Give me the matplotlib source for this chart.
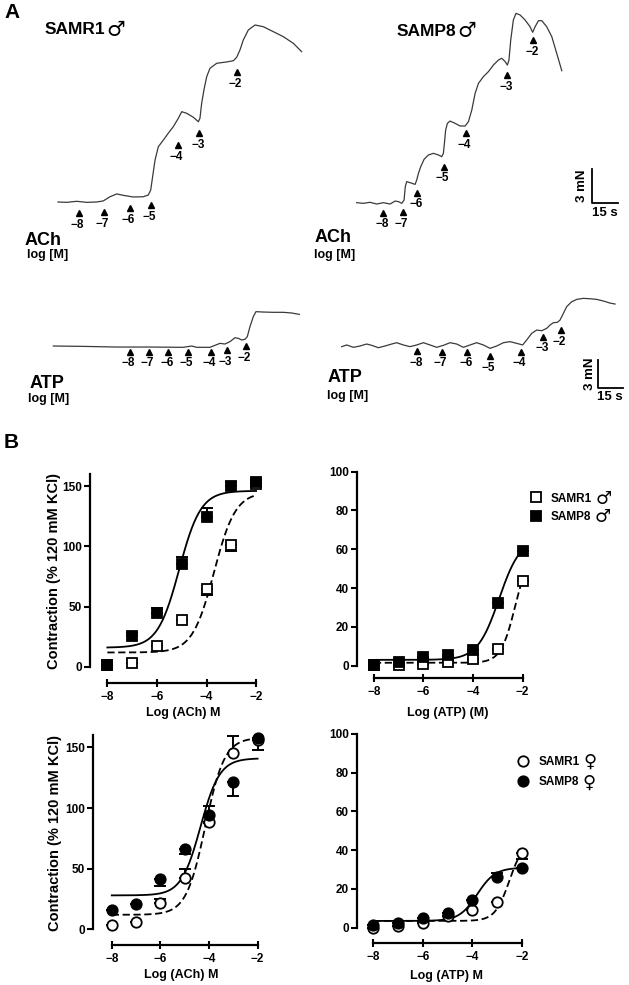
import numpy as np
import matplotlib
matplotlib.use('Agg')
import matplotlib.pyplot as plt

plt.rcParams['font.family'] = ['Liberation Sans', 'DejaVu Sans']
plt.rcParams['font.weight'] = 'bold'
plt.rcParams['axes.labelweight'] = 'bold'

W, H = 629, 985

# ===== PANEL A: isometric tension traces (time s, tension mN) =====
dose_labels = ['\u22128', '\u22127', '\u22126', '\u22125', '\u22124', '\u22123', '\u22122']

ach_r1_t = [0, 5, 10.8, 16.6, 22.3, 26.1, 30.0, 33.9, 37.7, 43.4, 49.2, 52.1, 53.5, 54.6,
            56.0, 57.9, 60.8, 63.6, 66.5, 69.4, 71.4, 74.3, 78.1, 81.0, 81.9, 82.9, 84.2,
            85.8, 87.7, 91.6, 97.3, 101.2, 103.1, 105.0, 106.9, 109.8, 113.7, 118.5, 124.2,
            130.0, 135.8, 140.6]
ach_r1_f = [0, -0.03, 0.06, -0.03, 0, 0.09, 0.45, 0.69, 0.57, 0.43, 0.45, 0.6, 1.03, 2.17,
            3.6, 4.74, 5.31, 5.89, 6.45, 7.17, 7.74, 7.6, 7.26, 6.88, 7.17, 8.46, 9.6,
            10.74, 11.46, 11.89, 12.0, 12.11, 12.4, 13.03, 13.88, 14.74, 15.17, 15.02, 14.6,
            14.17, 13.6, 12.88]
ach_r1_arrow_t = [12.1, 26.5, 41.5, 53.7, 69.1, 81.5, 103.1]
ach_r1_arrow_f = [-0.94, -0.86, -0.51, -0.26, 4.9, 5.9, 11.1]

ach_p8_t = [0, 3.8, 7.6, 11.4, 15.2, 19.0, 21.9, 23.8, 25.7, 27.0, 27.7, 28.5, 30.4, 33.3,
            34.2, 35.2, 36.5, 38.4, 40.9, 43.7, 46.6, 48.5, 49.4, 50.0, 50.7, 51.7, 53.2,
            56.1, 58.9, 61.8, 63.7, 65.6, 67.5, 69.4, 72.2, 75.1, 77.9, 80.8, 82.7, 84.6,
            85.9, 86.8, 87.8, 89.3, 90.8, 93.1, 96.0, 98.8, 100.3, 101.7, 103.6, 105.5,
            108.3, 111.2, 114.0, 116.9]
ach_p8_f = [0.03, -0.03, 0.06, -0.09, 0.03, -0.09, 0.17, 0.12, -0.03, 0.26, 1.42, 1.86, 1.77,
            1.62, 2.0, 2.58, 3.16, 3.8, 4.18, 4.32, 4.18, 4.03, 4.32, 5.19, 6.35, 6.93, 7.13,
            6.93, 6.7, 6.7, 7.08, 8.09, 9.54, 10.41, 10.99, 11.43, 12.0, 12.44, 12.59, 12.3,
            12.0, 12.44, 14.18, 15.92, 16.5, 16.36, 15.92, 15.34, 14.85, 15.34, 15.86, 15.86,
            15.34, 14.47, 13.02, 11.51]
ach_p8_arrow_t = [15.2, 26.2, 34.6, 49.8, 62.3, 85.9, 100.7]
ach_p8_arrow_f = [-0.84, -0.78, 0.9, 3.16, 6.06, 11.14, 14.18]

atp_r1_t = [0, 18, 38, 58, 78, 83, 86, 94, 97, 100, 103, 106, 109, 111, 113, 115, 116.4,
            118, 120, 121.6, 126, 132, 138, 143, 147.6]
atp_r1_f = [0, -0.04, -0.11, -0.11, -0.14, 0, -0.14, -0.14, 0.07, 0.28, 0.21, 0.46, 0.88,
            0.81, 0.64, 0.71, 0.99, 2.05, 3.11, 3.64, 3.6, 3.57, 3.57, 3.5, 3.35]
atp_r1_arrow_t = [46, 57.4, 69, 80.6, 94.4, 104, 115.4]
atp_r1_arrow_f = [-0.6, -0.6, -0.6, -0.6, -0.6, -0.42, 0]

atp_p8_t = [0, 3, 7, 11, 15, 18, 22, 26, 30, 33, 37, 41, 45, 49, 53, 57, 61, 65, 69, 73, 77,
            81, 85, 89, 93, 97, 101, 105, 108.6, 111, 114, 117, 120, 123, 125, 127, 129.4,
            131, 133, 135, 138, 141, 145, 149, 153, 157, 161, 164]
atp_p8_f = [-0.07, 0.11, -0.14, 0, 0.21, 0.07, -0.18, 0, 0.21, 0.35, 0.11, -0.07, 0.11, 0.35,
            0.11, -0.14, 0.07, 0.35, 0.21, -0.14, 0.11, 0.35, 0.11, -0.25, 0, 0.35, 0.46,
            0.28, 0.11, 0.64, 1.34, 1.69, 1.62, 1.87, 2.22, 2.47, 2.51, 2.75, 3.46, 4.17,
            4.69, 4.94, 5.05, 5.01, 4.94, 4.77, 4.55, 4.45]
atp_p8_arrow_t = [45.4, 60, 75.4, 89, 107.4, 121, 131.4]
atp_p8_arrow_f = [-0.53, -0.6, -0.6, -1.06, -0.6, 0.99, 1.69]

# ===== PANEL B: concentration-response (mean, one-sided SEM) =====
log_conc = [-8, -7, -6, -5, -4, -3, -2]

ach_m_r1 = [2, 3, 17, 39, 65, 101, 152]
ach_m_r1_err = [0, 0, 0, 0, 5, 5, 0]        # drawn downward
ach_m_p8 = [2, 26, 45, 85, 124, 150, 153]
ach_m_p8_err = [0, 2, 4, 6, 8, 3, 2]        # drawn upward

atp_m_r1 = [0.3, 0.5, 1, 1.7, 3.3, 8.5, 43.4]
atp_m_p8 = [0.5, 2, 4.3, 5.5, 8.1, 32.2, 59]

ach_f_r1 = [3.6, 6.3, 21.4, 42, 88.7, 145.6, 156]
ach_f_r1_err = [0, 0, 4, 8, 13, 14, 0]      # upward
ach_f_p8 = [16, 21, 41.5, 66, 94, 121.7, 158]
ach_f_p8_err = [0, 0, 6, 4, 6, 12, 10]      # downward

atp_f_r1 = [0, 1, 2.6, 6, 9.1, 13.1, 38.4]
atp_f_r1_err = [0, 0, 0, 0, 0, 0, 3]        # downward
atp_f_p8 = [1.4, 2.6, 4.8, 7.4, 14.3, 26, 30.6]
atp_f_p8_err = [0, 0, 0, 0, 0, 2.4, 0]      # upward

# sigmoid fits: bottom, top, logEC50, hill slope
fit_ach_m_r1 = [12, 145, -3.7, 1.0]
fit_ach_m_p8 = [16, 146, -5.1, 1.0]
fit_atp_m_r1 = [1.5, 60, -2.3, 1.5]
fit_atp_m_p8 = [3, 66, -2.95, 1.0]
fit_ach_f_r1 = [12, 158, -4.15, 1.1]
fit_ach_f_p8 = [28, 141, -4.35, 1.1]
fit_atp_f_r1 = [3.5, 45, -2.5, 1.5]
fit_atp_f_p8 = [3.5, 31, -3.8, 1.2]

MALE, FEMALE = '\u2642', '\u2640'


def logistic(x, bottom, top, logec50, hill):
    return bottom + (top - bottom) / (1 + 10 ** ((logec50 - x) * hill))


fig = plt.figure(figsize=(W / 100, H / 100), dpi=100)


def px_axes(x0, y0, x1, y1):
    return fig.add_axes([x0 / W, 1 - y1 / H, (x1 - x0) / W, (y1 - y0) / H])


def ftext(x, y, s, **kw):
    return fig.text(x / W, 1 - y / H, s, **kw)


def add_sign(ax, after, sign, size, gap=1.5):
    # large gender sign set right after another text (drawn after the legend)
    ax.annotate(sign, xy=(1, 0.5), xycoords=after, xytext=(gap, 0),
                textcoords='offset points', ha='left', va='center',
                family='DejaVu Sans', fontsize=size, annotation_clip=False, zorder=10)


def trace_axes(box, origin, s_per_px, mn_per_px):
    x0, y0, x1, y1 = box
    ox, oy = origin
    ax = px_axes(x0, y0, x1, y1)
    ax.set_xlim((x0 - ox) * s_per_px, (x1 - ox) * s_per_px)
    ax.set_ylim((oy - y1) * mn_per_px, (oy - y0) * mn_per_px)
    ax.axis('off')
    return ax


def draw_trace(ax, t, f, at, af):
    ax.plot(t, f, color='#3a3a3a', lw=0.9, clip_on=False)
    ax.plot(at, af, '^', color='k', ms=5, clip_on=False)
    for x, y, lab in zip(at, af, dose_labels):
        ax.annotate(lab, (x, y), xytext=(-1, -8.5), textcoords='offset points',
                    ha='center', va='center', fontsize=8.5, fontweight='bold')


ax_a1 = trace_axes((40, 0, 320, 240), (58, 202), 0.577, 0.0857)
draw_trace(ax_a1, ach_r1_t, ach_r1_f, ach_r1_arrow_t, ach_r1_arrow_f)

ax_a2 = trace_axes((340, 0, 629, 240), (356.7, 203), 0.57, 0.087)
draw_trace(ax_a2, ach_p8_t, ach_p8_f, ach_p8_arrow_t, ach_p8_arrow_f)
ax_a2.plot([134, 134, 149], [3, 0, 0], color='k', lw=1.3, clip_on=False)
ax_a2.text(128.4, 1.5, '3 mN', rotation=90, ha='center', va='center', fontsize=9.5)
ax_a2.text(141.5, -0.87, '15 s', ha='center', va='center', fontsize=9.5)

ax_a3 = trace_axes((40, 280, 320, 420), (53.3, 346), 0.6, 0.106)
draw_trace(ax_a3, atp_r1_t, atp_r1_f, atp_r1_arrow_t, atp_r1_arrow_f)

ax_a4 = trace_axes((330, 280, 629, 420), (341.7, 346), 0.6, 0.106)
draw_trace(ax_a4, atp_p8_t, atp_p8_f, atp_p8_arrow_t, atp_p8_arrow_f)
ax_a4.plot([153.6, 153.6, 168.6], [-1.5, -4.5, -4.5], color='k', lw=1.3, clip_on=False)
ax_a4.text(149, -2.9, '3 mN', rotation=90, ha='center', va='center', fontsize=9.5)
ax_a4.text(161, -5.4, '15 s', ha='center', va='center', fontsize=9.5)

ftext(4, 13, 'A', fontsize=15, va='center')
t1 = ftext(45, 30, 'SAMR1', fontsize=12.5, va='center')
add_sign(ax_a1, t1, MALE, 15, gap=0.5)
t2 = ftext(397, 31, 'SAMP8', fontsize=12.5, va='center')
add_sign(ax_a2, t2, MALE, 15, gap=0.5)
for x, y, s, fs in [(25, 240, 'ACh', 13), (27, 255, 'log [M]', 9),
                    (315, 238, 'ACh', 13), (314, 255, 'log [M]', 9),
                    (30, 383, 'ATP', 13), (28, 399, 'log [M]', 9),
                    (328, 378, 'ATP', 13), (327, 396, 'log [M]', 9)]:
    ftext(x, y, s, fontsize=fs, va='center')
ftext(4, 443, 'B', fontsize=15, va='center')


def dose_axes(box, xlim, ylim, ytop, yticks):
    ax = px_axes(*box)
    ax.set_xlim(xlim)
    ax.set_ylim(ylim)
    ax.patch.set_visible(False)
    for s in ['top', 'right']:
        ax.spines[s].set_visible(False)
    for s in ['left', 'bottom']:
        ax.spines[s].set_linewidth(1.6)
    ax.spines['left'].set_bounds(0, ytop)
    ax.spines['bottom'].set_bounds(-8, -2)
    ax.set_xticks([-8, -6, -4, -2])
    ax.set_yticks(yticks)
    ax.tick_params(axis='x', direction='inout', length=6, width=1.5, labelsize=8.5, pad=2.5)
    ax.tick_params(axis='y', direction='out', length=4, width=1.5, labelsize=8.5, pad=2)
    return ax


def draw_group(ax, y, err, up, fit, marker, filled, dashed, label=None):
    lower = [0] * len(err) if up else err
    upper = err if up else [0] * len(err)
    ax.errorbar(log_conc, y, yerr=[lower, upper], fmt='none', ecolor='k',
                elinewidth=1.4, capsize=4, capthick=1.4, zorder=2, clip_on=False)
    xs = np.linspace(-8, -2, 200)
    ax.plot(xs, logistic(xs, *fit), color='k', lw=1.3,
            dashes=(4, 2) if dashed else (None, None), zorder=3, clip_on=False)
    ax.plot(log_conc, y, marker, ls='none', ms=7.5, mew=1.3, mec='k',
            mfc='k' if filled else 'white', zorder=4, clip_on=False, label=label)


def sex_legend(ax, top_px, left_px, spacing, sign):
    leg = ax.legend(loc='upper left', bbox_to_anchor=(left_px / W, 1 - top_px / H),
                    bbox_transform=fig.transFigure, frameon=False, fontsize=8.5,
                    handlelength=1, handletextpad=0.8, borderpad=0, borderaxespad=0,
                    labelspacing=spacing)
    for txt in leg.get_texts():
        add_sign(ax, txt, sign, 13, gap=2.5)


ylab = 'Contraction (% 120 mM KCl)'

ax1 = dose_axes((90, 473, 270, 683), (-8.70, -1.44), (-13.3, 160.8), 160, [0, 50, 100, 150])
draw_group(ax1, ach_m_r1, ach_m_r1_err, False, fit_ach_m_r1, 's', False, True)
draw_group(ax1, ach_m_p8, ach_m_p8_err, True, fit_ach_m_p8, 's', True, False)
ax1.set_ylabel(ylab, fontsize=10.5)
ax1.yaxis.set_label_coords(-0.16, 0.533)
ax1.set_xlabel('Log (ACh) M', fontsize=9)
ax1.xaxis.set_label_coords(0.517, -0.114)

ax2 = dose_axes((357.3, 471.7, 540, 678.3), (-8.67, -1.30), (-6.5, 100), 100,
                [0, 20, 40, 60, 80, 100])
draw_group(ax2, atp_m_r1, [0] * 7, False, fit_atp_m_r1, 's', False, True, 'SAMR1')
draw_group(ax2, atp_m_p8, [0] * 7, True, fit_atp_m_p8, 's', True, False, 'SAMP8')
ax2.set_xlabel('Log (ATP) (M)', fontsize=9)
ax2.xaxis.set_label_coords(0.496, -0.139)
sex_legend(ax2, 492.5, 529.8, 0.54, MALE)

ax3 = dose_axes((93.3, 733.3, 270, 945), (-8.76, -1.49), (-12.9, 161.6), 160, [0, 50, 100, 150])
draw_group(ax3, ach_f_r1, ach_f_r1_err, True, fit_ach_f_r1, 'o', False, True)
draw_group(ax3, ach_f_p8, ach_f_p8_err, False, fit_ach_f_p8, 'o', True, False)
ax3.set_ylabel(ylab, fontsize=10.5)
ax3.yaxis.set_label_coords(-0.176, 0.53)
ax3.set_xlabel('Log (ACh) M', fontsize=9)
ax3.xaxis.set_label_coords(0.5, -0.113)

ax4 = dose_axes((357.3, 734, 540, 943.3), (-8.65, -1.26), (-8.05, 100), 100,
                [0, 20, 40, 60, 80, 100])
draw_group(ax4, atp_f_r1, atp_f_r1_err, False, fit_atp_f_r1, 'o', False, True, 'SAMR1')
draw_group(ax4, atp_f_p8, atp_f_p8_err, True, fit_atp_f_p8, 'o', True, False, 'SAMP8')
ax4.set_xlabel('Log (ATP) M', fontsize=9)
ax4.xaxis.set_label_coords(0.489, -0.128)
sex_legend(ax4, 756, 517.4, 0.71, FEMALE)

fig.savefig('out.png', dpi=100)
